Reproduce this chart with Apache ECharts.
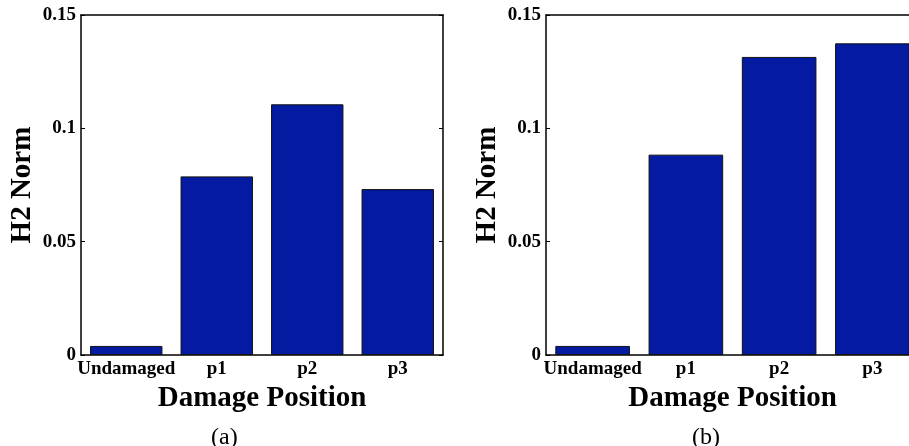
<!DOCTYPE html>
<html>
<head>
<meta charset="utf-8">
<script src="https://cdn.jsdelivr.net/npm/echarts@6/dist/echarts.min.js"></script>
<style>
  html, body { margin: 0; padding: 0; background: #fff; }
  #chart { width: 909px; height: 446px; }
</style>
</head>
<body>
<div id="chart"></div>
<script>
// data
const categories = ['Undamaged', 'p1', 'p2', 'p3']
const normA = [0.004, 0.0788, 0.1106, 0.0732]
const normB = [0.004, 0.0884, 0.1315, 0.1375]
const yTicks = [0, 0.05, 0.1, 0.15]

const font = '"Liberation Serif", "Times New Roman", serif'
const barColor = '#041aa0'

const lineStyle = { color: '#000', width: 1.5 }

// bottom axis with labels + name, top axis only ticks (boxed look)
function xAxes(gridIndex) {
  return [{
    type: 'category',
    gridIndex: gridIndex,
    data: categories,
    position: 'bottom',
    axisLine: { onZero: false, lineStyle: lineStyle },
    axisTick: { inside: true, alignWithLabel: true, length: 4, lineStyle: { color: '#000' } },
    axisLabel: { interval: 0, color: '#000', fontFamily: font, fontWeight: 'bold', fontSize: 19, margin: 5 },
    name: 'Damage Position',
    nameLocation: 'middle',
    nameGap: 23,
    nameTextStyle: { color: '#000', fontFamily: font, fontWeight: 'bold', fontSize: 29 }
  }, {
    type: 'category',
    gridIndex: gridIndex,
    data: categories,
    position: 'top',
    axisLine: { onZero: false, lineStyle: lineStyle },
    axisTick: { inside: true, alignWithLabel: true, length: 4, lineStyle: { color: '#000' } },
    axisLabel: { show: false }
  }]
}

function yAxes(gridIndex) {
  return [{
    type: 'value',
    gridIndex: gridIndex,
    position: 'left',
    min: yTicks[0],
    max: yTicks[yTicks.length - 1],
    interval: 0.05,
    splitLine: { show: false },
    axisLine: { show: true, onZero: false, lineStyle: lineStyle },
    axisTick: { show: true, inside: true, length: 4, lineStyle: { color: '#000' } },
    axisLabel: { color: '#000', fontFamily: font, fontWeight: 'bold', fontSize: 19, margin: 5 },
    name: 'H2 Norm',
    nameLocation: 'middle',
    nameRotate: 90,
    nameGap: 44,
    nameTextStyle: { color: '#000', fontFamily: font, fontWeight: 'bold', fontSize: 29 }
  }, {
    type: 'value',
    gridIndex: gridIndex,
    position: 'right',
    min: yTicks[0],
    max: yTicks[yTicks.length - 1],
    interval: 0.05,
    splitLine: { show: false },
    axisLine: { show: true, onZero: false, lineStyle: lineStyle },
    axisTick: { show: true, inside: true, length: 4, lineStyle: { color: '#000' } },
    axisLabel: { show: false }
  }]
}

function barSeries(data, gridIndex) {
  return {
    type: 'bar',
    data: data,
    xAxisIndex: gridIndex * 2,
    yAxisIndex: gridIndex * 2,
    barCategoryGap: '20%',
    itemStyle: { color: barColor, borderColor: '#111', borderWidth: 1 },
    silent: true,
    animation: false
  }
}

const chart = echarts.init(document.getElementById('chart'))
chart.setOption({
  backgroundColor: '#fff',
  animation: false,
  title: [{
    text: '(a)',
    left: 206,
    top: 421,
    textStyle: { fontFamily: font, fontWeight: 'normal', fontSize: 24, color: '#000' }
  }, {
    text: '(b)',
    left: 687,
    top: 421,
    textStyle: { fontFamily: font, fontWeight: 'normal', fontSize: 24, color: '#000' }
  }],
  grid: [
    { left: 81, top: 15, width: 362, height: 340, outerBoundsMode: 'none' },
    // panel (b) runs past the right edge of the picture
    { left: 546, top: 15, right: -10, height: 340, outerBoundsMode: 'none' }
  ],
  xAxis: xAxes(0).concat(xAxes(1)),
  yAxis: yAxes(0).concat(yAxes(1)),
  series: [barSeries(normA, 0), barSeries(normB, 1)]
})
</script>
</body>
</html>
